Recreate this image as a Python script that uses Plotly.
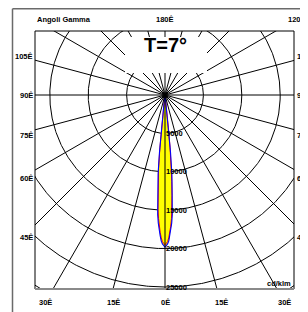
import numpy as np
import plotly.graph_objects as go

# ---------------- data ----------------
gamma_deg = [0, 1, 1.5, 2, 2.5, 3, 3.5, 4, 4.5, 5, 5.5, 6, 6.5, 7, 8, 10, 15, 90]
I_c90 = [19800, 19400, 19000, 18300, 17600, 16700, 15600, 13800, 12000, 10300,
         7500, 4600, 2000, 900, 300, 100, 30, 0]          # blue curve
I_c0 = [19500, 19100, 18600, 17900, 17100, 16100, 14900, 13100, 11300, 9600,
        6900, 4200, 1850, 800, 270, 90, 28, 0]            # red curve
radii = [5000, 10000, 15000, 20000, 25000, 30000]
radial_labels = ["5000", "10000", "15000", "20000", "25000"]
spoke_angles = list(range(0, 360, 15))
title_text = "T=7°"

# ---------------- geometry helpers (window pixel coords) ----------------
OFF = 8                      # default body margin of the html page
W, H = 308 - OFF, 312 - OFF
PL, PT, PR, PB = 35, 31, 294, 289   # plot area in window px
L, T = PL - OFF, PT - OFF
R, B = 308 - PR, 312 - PB
pw, ph = PR - PL, PB - PT
cx_px, cy_px = 165, 95
k = 192 / 25000.0  # px per cd/klm
xr = [-(cx_px - PL) / k, (PR - cx_px) / k]
yr = [-(PB - cy_px) / k, (cy_px - PT) / k]


def px2paper(xp, yp):
    return (xp - PL) / pw, (PB - yp) / ph


def curve_xy(g, I):
    g = np.radians(np.array(g, dtype=float))
    I = np.array(I, dtype=float)
    gg = np.concatenate([-g[::-1], g[1:]])
    II = np.concatenate([I[::-1], I[1:]])
    return II * np.sin(gg), -II * np.cos(gg)


fig = go.Figure()

# grid circles
th = np.linspace(0, 2 * np.pi, 721)
cxs, cys = [], []
for r in radii:
    cxs += list(r * np.cos(th)) + [None]
    cys += list(r * np.sin(th)) + [None]
fig.add_trace(go.Scatter(x=cxs, y=cys, mode="lines",
                         line=dict(color="black", width=1), hoverinfo="skip"))

# beam
bx, by = curve_xy(gamma_deg, I_c90)
fig.add_trace(go.Scatter(x=bx, y=by, mode="lines", fill="toself",
                         fillcolor="#FFFF00", line=dict(color="#0000FF", width=0),
                         hoverinfo="skip"))
rx, ry = curve_xy(gamma_deg, I_c0)
fig.add_trace(go.Scatter(x=rx, y=ry, mode="lines",
                         line=dict(color="#FF0000", width=1.0), hoverinfo="skip"))
fig.add_trace(go.Scatter(x=bx, y=by, mode="lines",
                         line=dict(color="#0000FF", width=1.1), hoverinfo="skip"))

# spokes
sx, sy = [], []
Rmax = 40000
for a in spoke_angles:
    ar = np.radians(a)
    sx += [0, Rmax * np.sin(ar), None]
    sy += [0, -Rmax * np.cos(ar), None]
fig.add_trace(go.Scatter(x=sx, y=sy, mode="lines",
                         line=dict(color="black", width=1), hoverinfo="skip"))

shapes = []
# white box behind title
x0, y1 = px2paper(125, 37)
x1, y0 = px2paper(207, 73)
shapes.append(dict(type="rect", xref="paper", yref="paper", x0=x0, x1=x1, y0=y0, y1=y1,
                   fillcolor="white", line=dict(width=0), layer="above"))
# inner box
shapes.append(dict(type="line", xref="paper", yref="paper", x0=0, x1=0, y0=0, y1=1,
                   line=dict(color="black", width=1), layer="above"))
shapes.append(dict(type="line", xref="paper", yref="paper", x0=0, x1=1, y0=1, y1=1,
                   line=dict(color="black", width=1), layer="above"))
shapes.append(dict(type="line", xref="paper", yref="paper", x0=1, x1=1, y0=0, y1=1,
                   line=dict(color="black", width=1), layer="above"))
shapes.append(dict(type="line", xref="paper", yref="paper", x0=0, x1=1, y0=0, y1=0,
                   line=dict(color="#8a8a8a", width=2), layer="above"))
# outer frame (top + left)
fx0, fy0 = px2paper(12.5, 8.8)
fx1, fy1 = px2paper(320, 330)
shapes.append(dict(type="line", xref="paper", yref="paper", x0=fx0, x1=fx1, y0=fy0, y1=fy0,
                   line=dict(color="#6a6a6a", width=1.5)))
shapes.append(dict(type="line", xref="paper", yref="paper", x0=fx0, x1=fx0, y0=fy0, y1=fy1,
                   line=dict(color="#6a6a6a", width=1.5)))

ann = []
lf = dict(family="Liberation Sans, Arial", size=7.5, color="black", weight="bold")


def lab(text, xp, yp, xanchor="center", font=lf):
    px, py = px2paper(xp, yp)
    ann.append(dict(text=text, x=px, y=py, xref="paper", yref="paper",
                    xanchor=xanchor, yanchor="middle", showarrow=False, font=font))


lab("Angoli Gamma", 35, 20, "left")
lab("180Ê", 165, 20)
lab("120Ê", 297, 20)
side = [("105Ê", 57), ("90Ê", 95), ("75Ê", 135), ("60Ê", 178), ("45Ê", 237)]
for t, yp in side:
    lab(t, 34.5, yp, "right")
    lab(t, 295, yp, "left")
bottom = [("30Ê", 45), ("15Ê", 113), ("0Ê", 165), ("15Ê", 221), ("30Ê", 284)]
for t, xp in bottom:
    lab(t, xp, 302)
lab("cd/klm", 293, 283, "right")

for r, t in zip(radii, radial_labels):
    ann.append(dict(text=t, x=0, y=-r, xref="x", yref="y", xanchor="left",
                    yanchor="middle", xshift=-1, showarrow=False, font=lf))

px, py = px2paper(165, 45)
ann.append(dict(text=title_text, x=px, y=py, xref="paper", yref="paper",
                xanchor="center", yanchor="middle", showarrow=False,
                font=dict(family="Liberation Sans, Arial", size=20, color="black",
                          weight="bold")))

fig.update_layout(
    width=W, height=H, margin=dict(l=L, r=R, t=T, b=B),
    paper_bgcolor="white", plot_bgcolor="white", showlegend=False,
    xaxis=dict(range=xr, visible=False, showgrid=False, zeroline=False, fixedrange=True),
    yaxis=dict(range=yr, visible=False, showgrid=False, zeroline=False, fixedrange=True),
    shapes=shapes, annotations=ann,
)
fig.write_html("out.html")
